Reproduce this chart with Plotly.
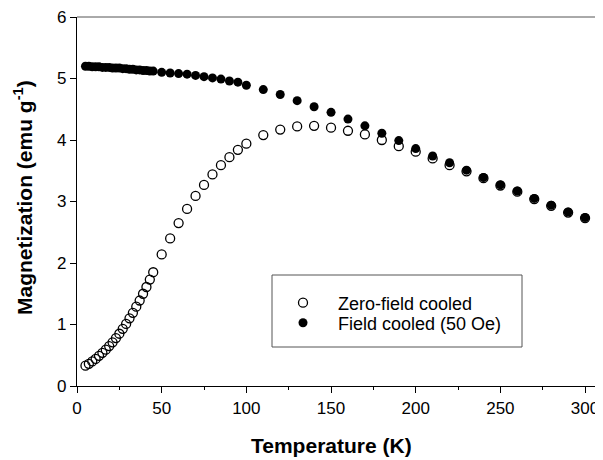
import plotly.graph_objects as go

# Temperatures (K)
temps = [5, 7, 9, 11, 13, 15, 17, 19, 21, 23, 25, 27, 29, 31, 33, 35, 37, 39, 41, 43, 45,
         50, 55, 60, 65, 70, 75, 80, 85, 90, 95, 100,
         110, 120, 130, 140, 150, 160, 170, 180, 190, 200, 210, 220, 230, 240, 250,
         260, 270, 280, 290, 300]

# Zero-field cooled magnetization (emu/g)
zfc = [0.33, 0.36, 0.40, 0.44, 0.49, 0.54, 0.59, 0.65, 0.71, 0.78, 0.85, 0.93, 1.01, 1.10,
       1.19, 1.29, 1.39, 1.50, 1.61, 1.73, 1.85,
       2.14, 2.40, 2.65, 2.88, 3.09, 3.27, 3.44, 3.59, 3.72, 3.84, 3.94,
       4.08, 4.17, 4.22, 4.23, 4.20, 4.15, 4.09, 4.00, 3.90, 3.81, 3.70, 3.59, 3.49, 3.38,
       3.26, 3.16, 3.04, 2.93, 2.82, 2.73]

# Field cooled (50 Oe) magnetization (emu/g)
fc = [5.20, 5.20, 5.19, 5.19, 5.19, 5.18, 5.18, 5.18, 5.17, 5.17, 5.17, 5.16, 5.16, 5.15,
      5.15, 5.14, 5.14, 5.13, 5.13, 5.12, 5.12,
      5.10, 5.09, 5.08, 5.07, 5.05, 5.03, 5.01, 4.99, 4.96, 4.94, 4.89,
      4.82, 4.74, 4.64, 4.54, 4.45, 4.34, 4.23, 4.11, 3.99, 3.86, 3.74, 3.63, 3.51, 3.39,
      3.27, 3.17, 3.05, 2.94, 2.83, 2.74]

x_ticks = [0, 50, 100, 150, 200, 250, 300]
y_ticks = [0, 1, 2, 3, 4, 5, 6]

FONT = "Arial, Liberation Sans, sans-serif"

# page has an 8px body margin: figure is placed at (8, 8)
OFF = 8
PL, PR, PT, PB = 77, 602, 17, 386  # plot area in page pixels
PW, PH = PR - PL, PB - PT


def px(xp):
    return (xp - PL) / PW


def py(yp):
    return (PB - yp) / PH


fig = go.Figure()
fig.add_trace(go.Scatter(
    x=temps, y=zfc, mode="markers", name="Zero-field cooled", legend="legend",
    marker=dict(symbol="circle-open", size=9, color="black", line=dict(width=1.3, color="black")),
))
fig.add_trace(go.Scatter(
    x=temps, y=fc, mode="markers", name="Field cooled (50 Oe)", legend="legend2",
    marker=dict(symbol="circle", size=9, color="black", line=dict(width=0)),
))

leg_common = dict(xanchor="left", yanchor="middle", bgcolor="rgba(0,0,0,0)", borderwidth=0,
                  font=dict(family=FONT, size=18, color="black"), itemwidth=60)

fig.update_layout(
    width=603 - OFF, height=460 - OFF,
    margin=dict(l=PL - OFF, r=1, t=PT - OFF, b=(460 - OFF) - (PB - OFF), autoexpand=False),
    paper_bgcolor="white", plot_bgcolor="white",
    font=dict(family=FONT, size=17, color="black"),
    showlegend=True,
    legend=dict(x=px(268), y=py(303), **leg_common),
    legend2=dict(x=px(268), y=py(323), **leg_common),
    xaxis=dict(
        range=[0, 310], tickvals=x_ticks, ticks="outside", ticklen=6, tickwidth=1,
        tickcolor="black", showline=True, linecolor="black", linewidth=1.3,
        showgrid=False, zeroline=False, automargin=False, ticklabeloverflow="allow",
        minor=dict(tickvals=[25, 75, 125, 175, 225, 275], ticks="outside", ticklen=3,
                   tickcolor="black", tickwidth=1, showgrid=False),
        tickfont=dict(size=17),
    ),
    yaxis=dict(
        range=[0, 6], tickvals=y_ticks, ticks="outside", ticklen=6, tickwidth=1,
        tickcolor="black", showline=True, linecolor="black", linewidth=1.3,
        showgrid=False, zeroline=False, automargin=False, ticklabeloverflow="allow",
        tickfont=dict(size=17),
    ),
    annotations=[
        dict(text="<b>Temperature (K)</b>", xref="paper", yref="paper",
             x=px(331), y=py(445), xanchor="center", yanchor="middle",
             showarrow=False, font=dict(size=21)),
        dict(text="<b>Magnetization (emu g<sup>-1</sup>)</b>", xref="paper", yref="paper",
             x=px(23), y=py(198), xanchor="center", yanchor="middle",
             textangle=-90, showarrow=False, font=dict(size=21)),
    ],
    shapes=[
        dict(type="line", xref="paper", yref="paper", x0=0, x1=1, y0=1, y1=1,
             line=dict(color="#555555", width=1)),
        dict(type="line", xref="paper", yref="paper", x0=1, x1=1, y0=0, y1=1,
             line=dict(color="#555555", width=1)),
        dict(type="rect", xref="paper", yref="paper",
             x0=px(272), x1=px(522), y0=py(347), y1=py(275),
             line=dict(color="#555555", width=1), fillcolor="rgba(0,0,0,0)"),
    ],
)

fig.write_html("out.html")
